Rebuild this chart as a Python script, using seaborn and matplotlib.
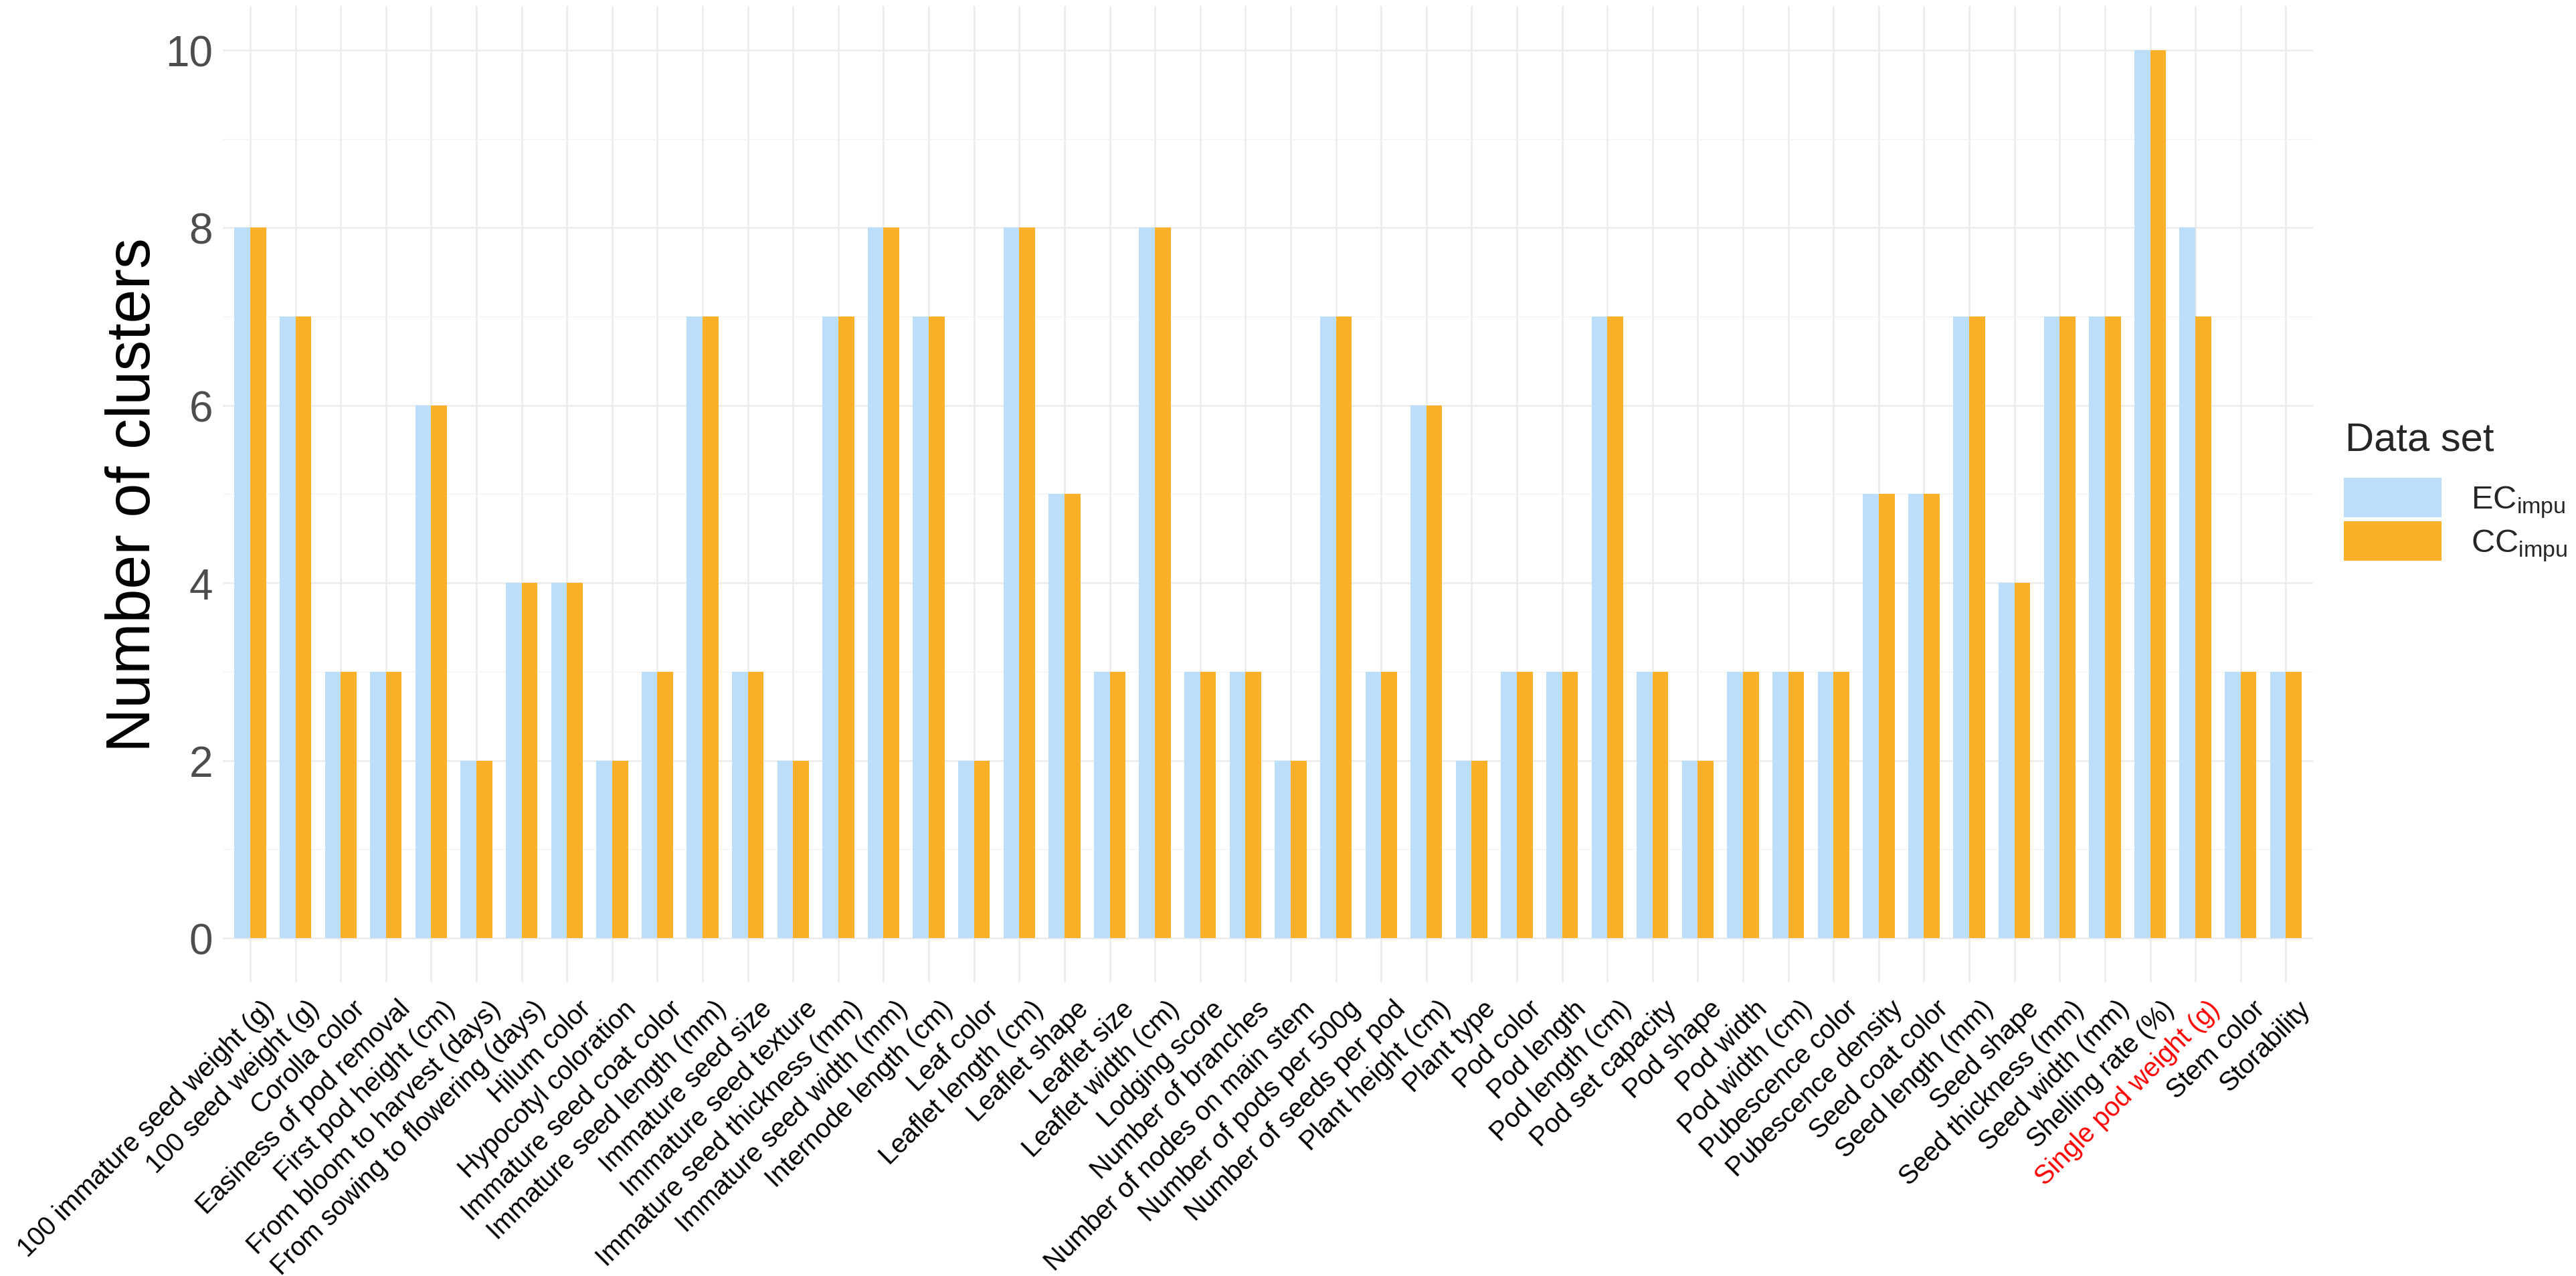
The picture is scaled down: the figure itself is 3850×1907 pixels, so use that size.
import matplotlib
matplotlib.use("Agg")
import matplotlib.pyplot as plt
from matplotlib.patches import Patch
from matplotlib.ticker import MultipleLocator
from matplotlib.transforms import ScaledTranslation
import seaborn as sns
import pandas as pd

# --- DATA ---
traits = [
    "100 immature seed weight (g)", "100 seed weight (g)", "Corolla color",
    "Easiness of pod removal", "First pod height (cm)", "From bloom to harvest (days)",
    "From sowing to flowering (days)", "Hilum color", "Hypocotyl coloration",
    "Immature seed coat color", "Immature seed length (mm)", "Immature seed size",
    "Immature seed texture", "Immature seed thickness (mm)", "Immature seed width (mm)",
    "Internode length (cm)", "Leaf color", "Leaflet length (cm)", "Leaflet shape",
    "Leaflet size", "Leaflet width (cm)", "Lodging score", "Number of branches",
    "Number of nodes on main stem", "Number of pods per 500g", "Number of seeds per pod",
    "Plant height (cm)", "Plant type", "Pod color", "Pod length", "Pod length (cm)",
    "Pod set capacity", "Pod shape", "Pod width", "Pod width (cm)", "Pubescence color",
    "Pubescence density", "Seed coat color", "Seed length (mm)", "Seed shape",
    "Seed thickness (mm)", "Seed width (mm)", "Shelling rate (%)", "Single pod weight (g)",
    "Stem color", "Storability",
]
ec_clusters = [8, 7, 3, 3, 6, 2, 4, 4, 2, 3, 7, 3, 2, 7, 8, 7, 2, 8, 5, 3, 8, 3, 3,
               2, 7, 3, 6, 2, 3, 3, 7, 3, 2, 3, 3, 3, 5, 5, 7, 4, 7, 7, 10, 8, 3, 3]
cc_clusters = [8, 7, 3, 3, 6, 2, 4, 4, 2, 3, 7, 3, 2, 7, 8, 7, 2, 8, 5, 3, 8, 3, 3,
               2, 7, 3, 6, 2, 3, 3, 7, 3, 2, 3, 3, 3, 5, 5, 7, 4, 7, 7, 10, 7, 3, 3]
data_sets = ["EC_impu", "CC_impu"]
legend_labels = [r"EC$_{\mathrm{impu}}$", r"CC$_{\mathrm{impu}}$"]
highlight_trait = "Single pod weight (g)"

colors = ["#BBDEFB", "#FBB02A"]

df = pd.DataFrame({
    "trait": traits * 2,
    "clusters": ec_clusters + cc_clusters,
    "data_set": [data_sets[0]] * len(traits) + [data_sets[1]] * len(traits),
})

# --- PLOT ---
sns.set_theme(style="whitegrid")
plt.rcParams["font.family"] = ["Liberation Sans", "DejaVu Sans"]
plt.rcParams["mathtext.fontset"] = "custom"
plt.rcParams["mathtext.rm"] = "Liberation Sans"
plt.rcParams["mathtext.default"] = "regular"

fig = plt.figure(figsize=(38.5, 19.08), dpi=100)
ax = fig.add_axes([0.0866, 0.2299, 0.8113, 0.7651])

sns.barplot(data=df, x="trait", y="clusters", hue="data_set", order=traits,
            hue_order=data_sets, palette=colors, width=0.7, saturation=1,
            linewidth=0, ax=ax)
ax.get_legend().remove()

ax.set_xlim(-0.6, len(traits) - 0.4)
ax.set_ylim(-0.5, 10.5)
ax.set_yticks([0, 2, 4, 6, 8, 10])
ax.yaxis.set_minor_locator(MultipleLocator(1))

ax.set_axisbelow(True)
ax.grid(False)
ax.xaxis.grid(True, which="major", color="#EBEBEB", linewidth=1.8)
ax.yaxis.grid(True, which="major", color="#EBEBEB", linewidth=1.8)
ax.yaxis.grid(True, which="minor", color="#F2F2F2", linewidth=0.9)
for s in ax.spines.values():
    s.set_visible(False)

ax.set_xlabel("")
ax.set_ylabel("Number of clusters", fontsize=66, color="black")
ax.yaxis.set_label_coords(-0.029, 0.5)

ax.tick_params(axis="y", which="both", length=0, pad=11, labelsize=46, labelcolor="#4D4D4D")
ax.tick_params(axis="x", length=0, pad=14, labelsize=28.5, labelcolor="black")
ax.set_xticks(range(len(traits)))
ax.set_xticklabels(traits, rotation=45, ha="right", va="top", rotation_mode="anchor")
shift = ScaledTranslation(12 / 72, 0, fig.dpi_scale_trans)
for lbl in ax.get_xticklabels():
    lbl.set_transform(lbl.get_transform() + shift)
    if lbl.get_text() == highlight_trait:
        lbl.set_color("red")

# legend on the right
handles = [Patch(facecolor=c, edgecolor="none") for c in colors]
fig.text(3505 / 3850, 1 - 673 / 1908, "Data set", fontsize=43, ha="left", va="baseline")
fig.legend(handles, legend_labels, loc="upper left",
           bbox_to_anchor=(3503 / 3850, 1 - 715 / 1908), frameon=False,
           fontsize=35, borderpad=0, borderaxespad=0, handlelength=3.0,
           handleheight=1.48, labelspacing=0.06, handletextpad=0.9)

fig.savefig("out.png", dpi=100)
